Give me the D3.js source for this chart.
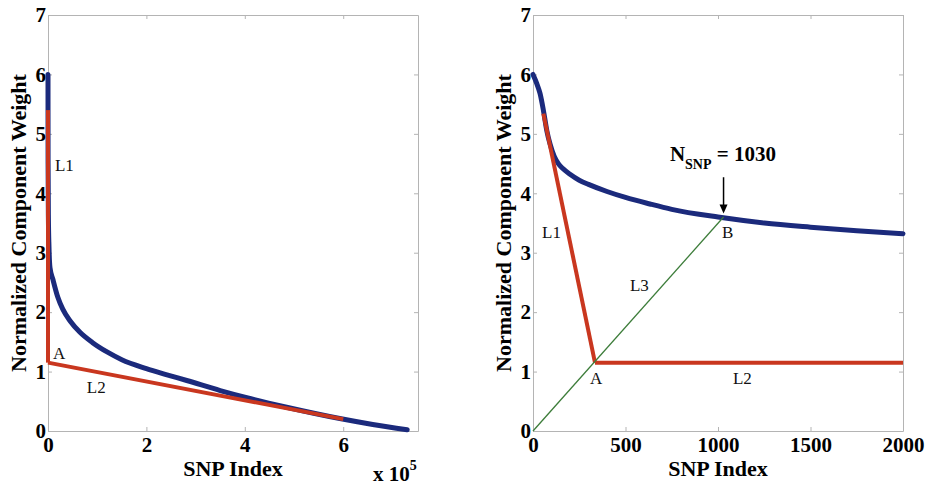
<!DOCTYPE html>
<html>
<head>
<meta charset="utf-8">
<script src="https://cdn.jsdelivr.net/npm/d3@7"></script>
<style>
  body { margin: 0; background: #fff; }
  svg { display: block; font-family: "Liberation Serif", "Times New Roman", serif; }
  .tick text { font-family: "Liberation Serif", "Times New Roman", serif; font-size: 21px; font-weight: bold; fill: #000; }
  .frame path, .frame line { stroke: #b4b4b4; }
</style>
</head>
<body>
<svg width="926" height="487"></svg>
<script>
// left panel: full sorted weight curve
const leftIdx = [0, 50, 200, 800, 2000, 4000, 10000, 20000, 30000, 45000, 65000, 90000, 120000, 150000, 200000, 240000, 282000, 350000, 404000, 485000, 593000, 660000, 730000];
const leftWeight = [6.0, 5.4, 4.5, 3.6, 3.1, 2.75, 2.55, 2.25, 2.05, 1.85, 1.66, 1.49, 1.33, 1.2, 1.05, 0.95, 0.85, 0.68, 0.56, 0.4, 0.21, 0.11, 0.02];
const leftXTicks = [0, 200000, 400000, 600000];

// right panel: first 2000 SNPs
const rightIdx = [0, 20, 38, 56, 75, 92, 115, 137, 160, 200, 250, 300, 400, 500, 632, 750, 1000, 1250, 1500, 1750, 2000];
const rightWeight = [6.0, 5.85, 5.68, 5.4, 5.05, 4.83, 4.62, 4.5, 4.42, 4.32, 4.22, 4.15, 4.03, 3.93, 3.82, 3.73, 3.6, 3.5, 3.43, 3.37, 3.32];
const rightXTicks = [0, 500, 1000, 1500, 2000];

const yTicks = [0, 1, 2, 3, 4, 5, 6, 7];

// fitted lines
const leftL1 = [[0, 5.4], [0, 1.15]];
const leftL2 = [[0, 1.15], [600000, 0.2]];
const rightL1 = [[56, 5.34], [335, 1.15]];
const rightL2 = [[335, 1.15], [2000, 1.15]];
const rightL3 = [[0, 0], [1030, 3.6]];

// labels in data coordinates
const leftNotes = [["L1", 14000, 4.375], ["A", 10000, 1.21], ["L2", 79000, 0.64]];
const rightNotes = [["L1", 49, 3.24], ["L3", 524, 2.36], ["B", 1022, 3.25], ["A", 308, 0.79], ["L2", 1081, 0.79]];
const nsnp = 1030;

const blue = "#1b2a7c";
const red = "#c9371f";
const green = "#3d7d3a";

const svg = d3.select("svg");
const plotTop = 15, plotBottom = 431;

function drawPanel(left, right, xMax, xTicks, fmt, idx, weight, reds, greens, notes) {
    const x = d3.scaleLinear().domain([0, xMax]).range([left, right]);
    const y = d3.scaleLinear().domain([0, 7]).range([plotBottom, plotTop]);
    const g = svg.append("g");

    // frame with inward ticks on every side
    g.append("g").attr("class", "frame")
        .attr("transform", `translate(0,${plotBottom})`)
        .call(d3.axisBottom(x).tickValues(xTicks).tickSizeInner(-4).tickSizeOuter(0).tickPadding(6).tickFormat(fmt));
    g.append("g").attr("class", "frame")
        .attr("transform", `translate(0,${plotTop})`)
        .call(d3.axisTop(x).tickValues(xTicks).tickSizeInner(-4).tickSizeOuter(0).tickFormat(""));
    g.append("g").attr("class", "frame")
        .attr("transform", `translate(${left},0)`)
        .call(d3.axisLeft(y).tickValues(yTicks).tickSizeInner(-4).tickSizeOuter(0).tickPadding(2).tickFormat(d3.format("d")));
    g.append("g").attr("class", "frame")
        .attr("transform", `translate(${right},0)`)
        .call(d3.axisRight(y).tickValues(yTicks).tickSizeInner(-4).tickSizeOuter(0).tickFormat(""));

    const line = d3.line().x(d => x(d[0])).y(d => y(d[1]));

    g.append("path")
        .datum(idx.map((v, i) => [v, weight[i]]))
        .attr("fill", "none")
        .attr("stroke", blue)
        .attr("stroke-width", 5)
        .attr("stroke-linecap", "round")
        .attr("d", line.curve(d3.curveMonotoneX));
    line.curve(d3.curveLinear);

    reds.forEach(seg => {
        g.append("path").datum(seg)
            .attr("fill", "none").attr("stroke", red).attr("stroke-width", 4)
            .attr("d", line);
    });
    greens.forEach(seg => {
        g.append("path").datum(seg)
            .attr("fill", "none").attr("stroke", green).attr("stroke-width", 1.3)
            .attr("d", line);
    });

    notes.forEach(n => {
        g.append("text").text(n[0])
            .attr("x", x(n[1])).attr("y", y(n[2]))
            .attr("font-size", 17).attr("fill", "#111");
    });

    g.append("text").text("SNP Index")
        .attr("x", (left + right) / 2).attr("y", 476)
        .attr("text-anchor", "middle")
        .attr("font-size", 22).attr("font-weight", "bold");

    g.append("text").text("Normalized Component Weight")
        .attr("transform", `translate(${left - 22},${(plotTop + plotBottom) / 2}) rotate(-90)`)
        .attr("text-anchor", "middle")
        .attr("font-size", 22).attr("font-weight", "bold");

    return { g, x, y };
}

const lp = drawPanel(48, 418, 752000, leftXTicks, d => d / 1e5, leftIdx, leftWeight,
    [leftL1, leftL2], [], leftNotes);

const exp = lp.g.append("text").attr("x", 373).attr("y", 481)
    .attr("font-size", 21).attr("font-weight", "bold");
exp.append("tspan").text("x 10");
exp.append("tspan").text("5").attr("font-size", 14).attr("dy", -11);

const rp = drawPanel(533, 903, 2000, rightXTicks, d3.format("d"), rightIdx, rightWeight,
    [rightL1, rightL2], [rightL3], rightNotes);

// N_SNP annotation with arrow
const ann = rp.g.append("text")
    .attr("x", rp.x(740)).attr("y", rp.y(4.55))
    .attr("font-size", 21).attr("font-weight", "bold");
ann.append("tspan").text("N");
ann.append("tspan").text("SNP").attr("font-size", 14).attr("dy", 8);
ann.append("tspan").text(` = ${nsnp}`).attr("dy", -8);

const ax = rp.x(nsnp), ay0 = rp.y(4.27), ay1 = rp.y(3.66);
rp.g.append("line")
    .attr("x1", ax).attr("x2", ax).attr("y1", ay0).attr("y2", ay1 - 8)
    .attr("stroke", "#000").attr("stroke-width", 1.5);
rp.g.append("path")
    .attr("d", `M${ax - 4},${ay1 - 9}L${ax + 4},${ay1 - 9}L${ax},${ay1}Z`)
    .attr("fill", "#000");
</script>
</body>
</html>
